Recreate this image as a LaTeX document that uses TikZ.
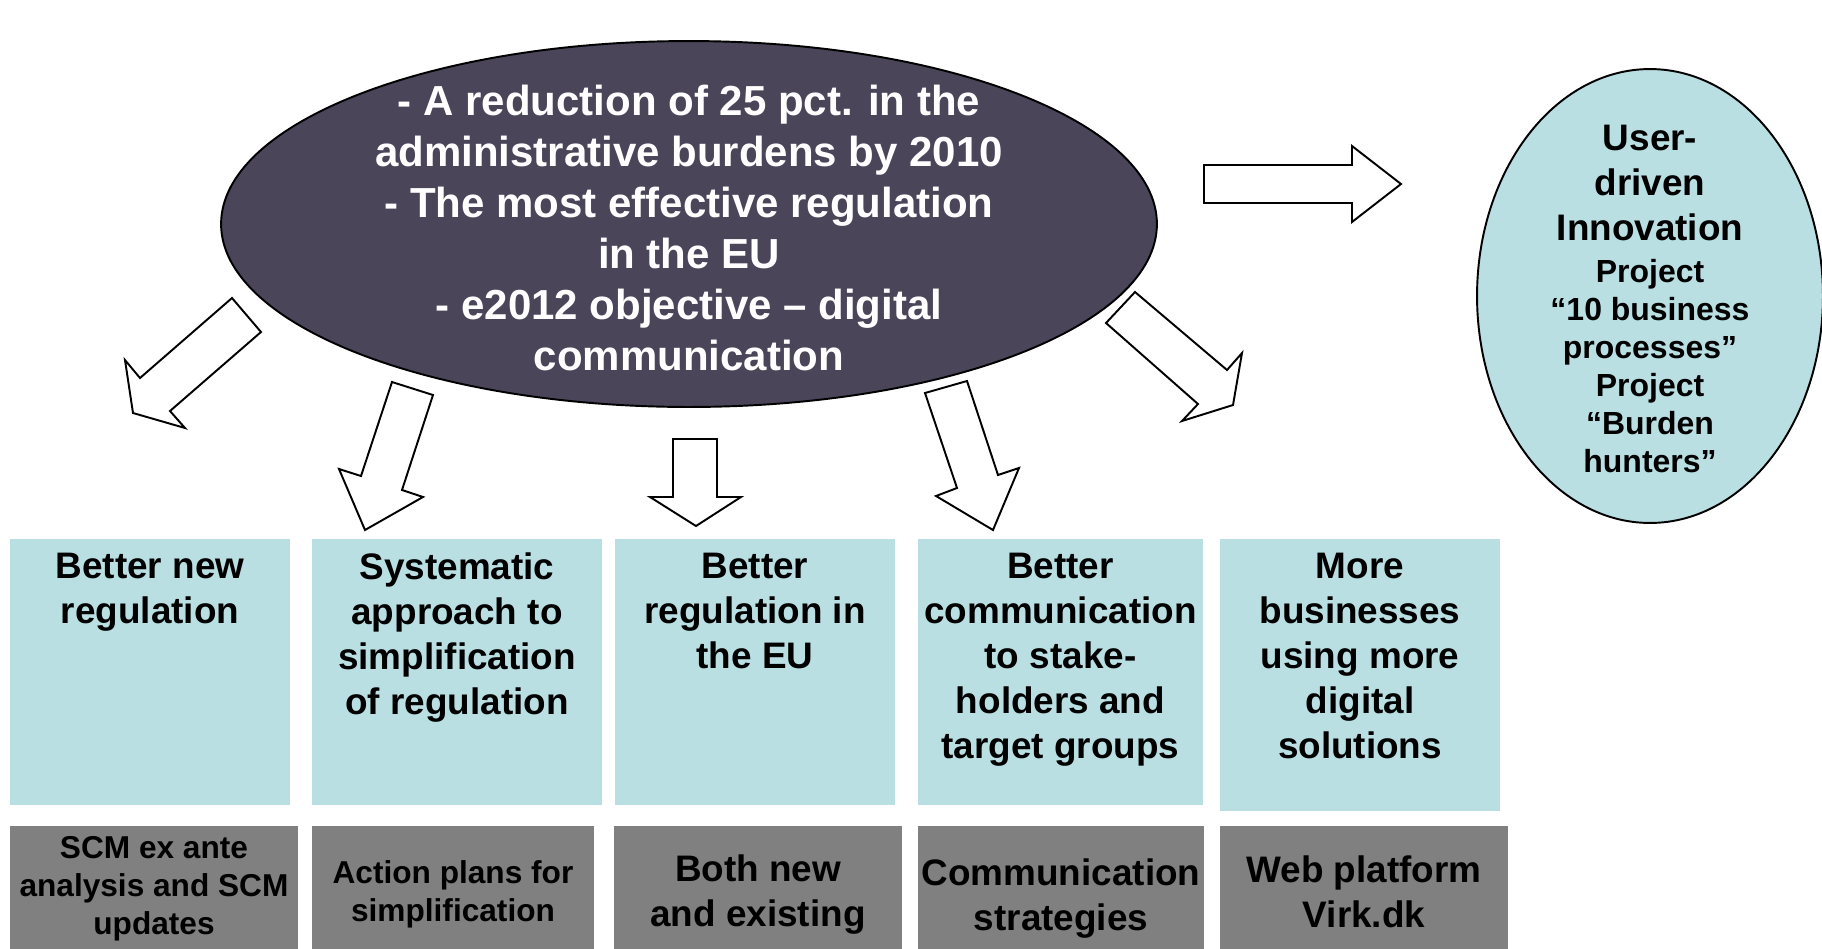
\documentclass[tikz,border=0pt]{standalone}
\usepackage{fontspec}
\setmainfont{Liberation Sans}
\usetikzlibrary{shapes.geometric}
\definecolor{darkell}{HTML}{4A4559}
\definecolor{lblue}{HTML}{B9DFE3}
\definecolor{gbox}{HTML}{808080}
\begin{document}
\begin{tikzpicture}[x=0.02cm,y=-0.02cm,
  blockarrow/.style={draw=black,line width=1.1pt,fill=white,line join=miter},
  topbox/.style={fill=lblue,draw=none,inner sep=0,minimum height=5.32cm},
  toptext/.style={anchor=north,align=center,inner sep=0,font=\fontsize{21}{25.6}\selectfont\bfseries},
  botbox/.style={fill=gbox,draw=none,inner sep=0,minimum height=2.56cm},
  bottext/.style={align=center,inner sep=0,font=\fontsize{21}{25.6}\selectfont\bfseries},
  botsmall/.style={font=\fontsize{18}{21.6}\selectfont\bfseries},
  mainell/.style={ellipse,fill=darkell,draw=black,line width=1.1pt,inner sep=0,minimum width=18.72cm,minimum height=7.32cm},
  sideell/.style={ellipse,fill=lblue,draw=black,line width=1.1pt,inner sep=0,minimum width=6.92cm,minimum height=9.08cm}
]
\clip (0,0) rectangle (1822,948);
\fill[white] (0,0) rectangle (1822,948);

% main ellipse
\node[mainell] (goal) at (689,224) {};
\node[align=center,text=white,inner sep=0,font=\fontsize{23.9}{29}\selectfont\bfseries] (goaltext) at (689,228)
  {- A reduction of 25 pct. in the\\
   administrative burdens by 2010\\
   - The most effective regulation\\
   in the EU\\
   - e2012 objective – digital\\
   communication};

% side ellipse
\node[sideell] (user) at (1650,296) {};
\node[align=center,inner sep=0,font=\fontsize{21}{25.6}\selectfont\bfseries] (usertop) at (1650,183)
  {User-\\driven\\Innovation};
\node[align=center,inner sep=0,font=\fontsize{18.2}{21.6}\selectfont\bfseries] (userbot) at (1650,366)
  {Project\\“10 business\\processes”\\Project\\“Burden\\hunters”};

% top boxes
\node[topbox,minimum width=5.6cm] (b1) at (150,672) {};
\node[topbox,minimum width=5.8cm] (b2) at (457,672) {};
\node[topbox,minimum width=5.6cm] (b3) at (755,672) {};
\node[topbox,minimum width=5.7cm] (b4) at (1060.5,672) {};
\node[topbox,minimum width=5.6cm,minimum height=5.44cm] (b5) at (1360,675) {};

\node[toptext] (t1) at ([yshift=-0.28cm]b1.north) {Better new\\regulation};
\node[toptext] (t2) at ([yshift=-0.28cm]b2.north) {Systematic\\approach to\\simplification\\of regulation};
\node[toptext] (t3) at ([yshift=-0.28cm]b3.north) {Better\\regulation in\\the EU};
\node[toptext] (t4) at ([yshift=-0.28cm]b4.north) {Better\\communication\\to stake-\\holders and\\target groups};
\node[toptext] (t5) at ([yshift=-0.28cm]b5.north) {More\\businesses\\using more\\digital\\solutions};

% bottom boxes
\node[botbox,minimum width=5.76cm] (g1) at (154,890) {};
\node[botbox,minimum width=5.64cm] (g2) at (453,890) {};
\node[botbox,minimum width=5.76cm] (g3) at (758,890) {};
\node[botbox,minimum width=5.72cm] (g4) at (1061,890) {};
\node[botbox,minimum width=5.76cm] (g5) at (1364,890) {};

\node[bottext,botsmall] (s1) at (154,889) {SCM ex ante\\analysis and SCM\\updates};
\node[bottext,botsmall] (s2) at (453,894) {Action plans for\\simplification};
\node[bottext] (s3) at (758,895) {Both new\\and existing};
\node[bottext] (s4) at (1061,899) {Communication\\strategies};
\node[bottext] (s5) at (1364,892) {Web platform\\Virk.dk};

% block arrows
\draw[blockarrow] (232,298) -- (261,332) -- (170,411) -- (185,428) -- (133,413) -- (125,360) -- (140,378) -- cycle;
\draw[blockarrow] (392,382) -- (433,395) -- (402,490) -- (423,497) -- (365,530) -- (339,469) -- (361,476) -- cycle;
\draw[blockarrow] (673,439) -- (717,439) -- (717,497) -- (741,497) -- (696,526) -- (650,497) -- (673,497) -- cycle;
\draw[blockarrow] (925,393) -- (967,381) -- (998,475) -- (1019,468) -- (993,530) -- (936,496) -- (957,488) -- cycle;
\draw[blockarrow] (1135,292) -- (1227,370) -- (1242,353) -- (1233,405) -- (1182,421) -- (1198,404) -- (1106,323) -- cycle;
\draw[blockarrow] (1204,165) -- (1352,165) -- (1352,146) -- (1401,184) -- (1352,222) -- (1352,203) -- (1204,203) -- cycle;
\end{tikzpicture}
\end{document}
